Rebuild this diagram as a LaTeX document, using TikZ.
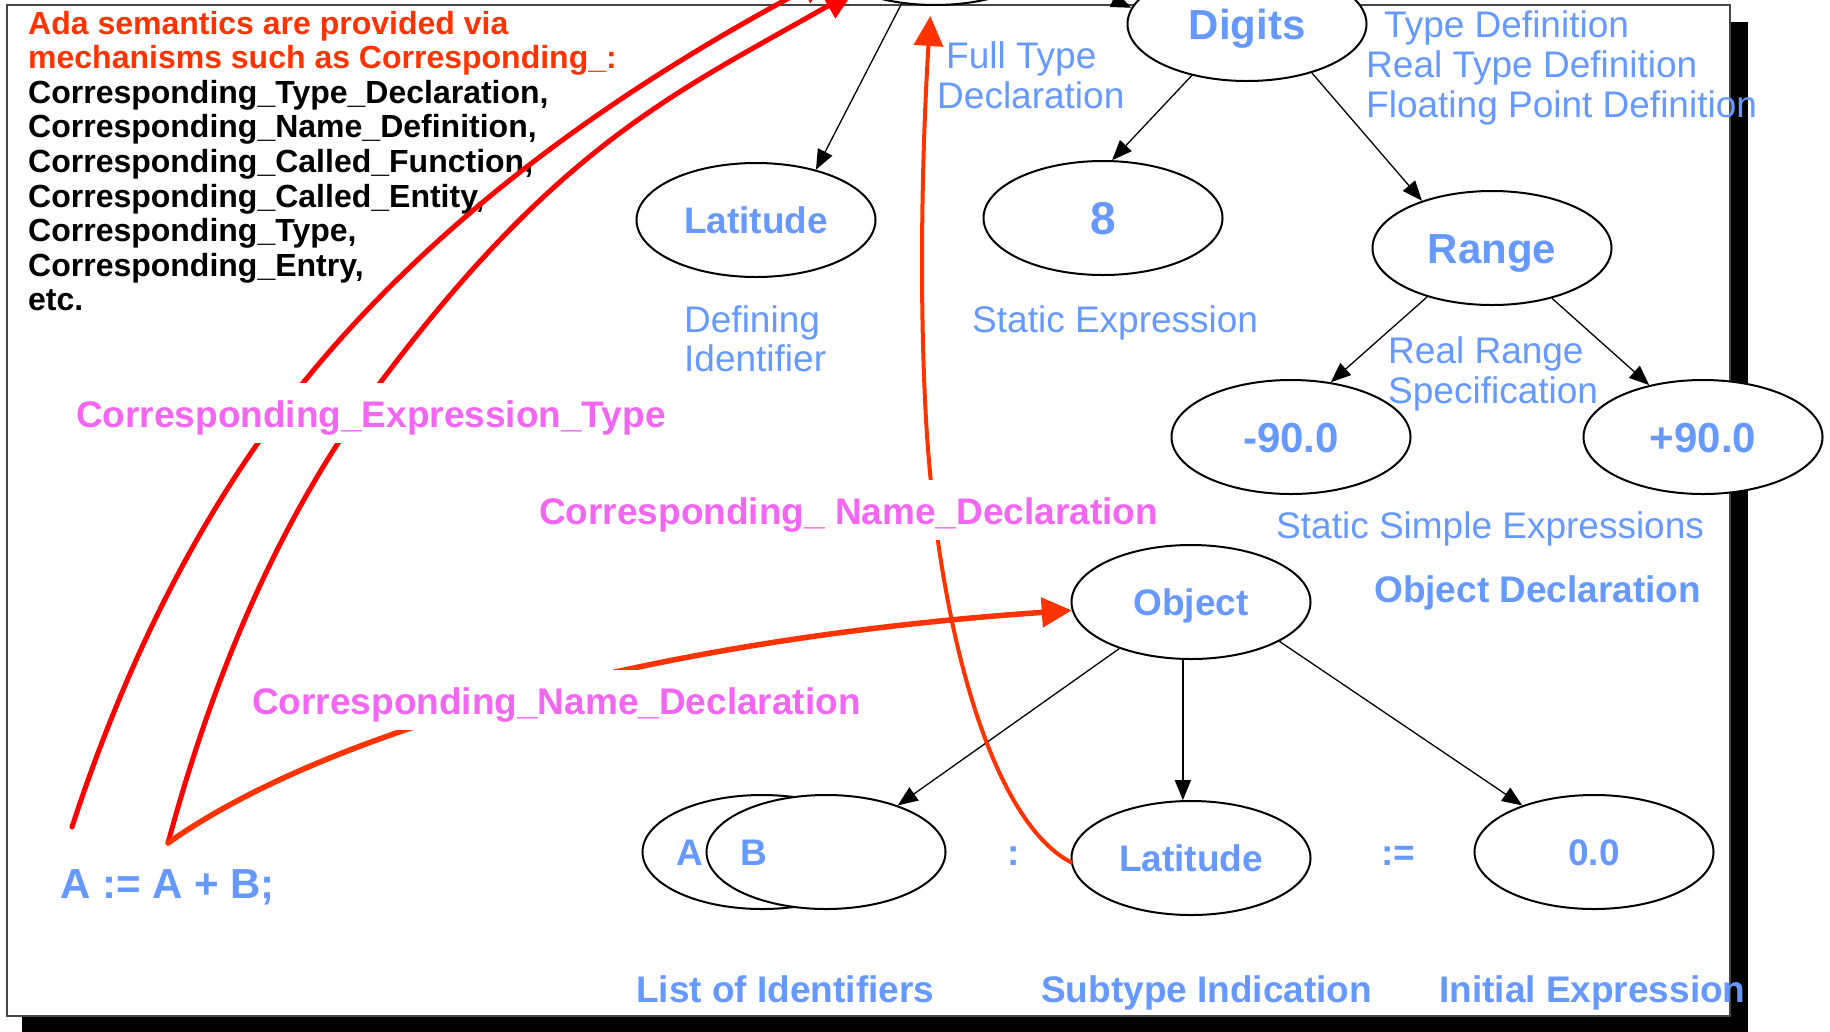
\documentclass[tikz,border=0pt]{standalone}
\usepackage{fontspec}
\setmainfont{Liberation Sans}
\usetikzlibrary{shapes.geometric,arrows.meta}
\definecolor{blu}{RGB}{102,153,255}
\definecolor{mag}{RGB}{242,102,242}
\definecolor{hdr}{RGB}{255,51,0}
\definecolor{redline}{RGB}{255,0,0}
\definecolor{orline}{RGB}{255,51,0}
\definecolor{framec}{RGB}{70,70,70}

\begin{document}
\begin{tikzpicture}[x=1pt,y=-1pt,
  ell/.style={ellipse, draw=black, line width=2pt, fill=white,
    minimum width=239pt, minimum height=114pt, inner sep=0pt,
    text height=26.5pt, text depth=0pt,
    text=blu, font=\bfseries\fontsize{37}{40}\selectfont},
  bigtxt/.style={font=\bfseries\fontsize{42}{46}\selectfont, text height=30pt},
  hugetxt/.style={font=\bfseries\fontsize{46}{50}\selectfont, text height=33pt},
  conn/.style={line width=1.3pt, -{Triangle[length=20pt,width=16pt]}},
  lbl/.style={text=blu, font=\fontsize{37}{40}\selectfont, inner sep=0pt, anchor=base west},
  lblb/.style={lbl, font=\bfseries\fontsize{37}{40}\selectfont},
  sym/.style={text=blu, font=\bfseries\fontsize{37}{40}\selectfont, inner sep=0pt, anchor=center},
  maglbl/.style={text=mag, font=\bfseries\fontsize{37}{40}\selectfont, fill=white,
    inner xsep=4pt, inner ysep=10pt, text height=34pt, text depth=6pt, anchor=base west},
  blk/.style={font=\bfseries\fontsize{32}{35}\selectfont, inner sep=0pt, anchor=base west},
  refline/.style={line width=5pt, line cap=round, draw=redline,
    -{Triangle[length=30pt,width=28pt]}},
  declline/.style={line cap=round, draw=orline, -{Triangle[length=30pt,width=29pt]}},
]
\useasboundingbox (0,0) rectangle (1830,1031);

% slide with drop shadow
\fill[black] (22,22) rectangle (1748,1040);
\draw[framec, line width=2pt, fill=white] (7,5) rectangle (1730,1016);

% tree nodes
\node[ell] (top) at (935,-52) {};
\node[ell] (lat1) at (756,220) {Latitude};
\node[ell,bigtxt] (digits) at (1247,24) {Digits};
\node[ell,hugetxt] (eight) at (1103,218) {8};
\node[ell,bigtxt] (range) at (1492,248) {Range};
\node[ell,bigtxt] (m90) at (1291,437) {-90.0};
\node[ell,bigtxt] (p90) at (1703,437) {+90.0};
\node[ell] (obj) at (1191,602) {Object};
\node[ell] (ellA) at (762,852) {};
\node[ell] (ellB) at (826,852) {};
\node[ell] (lat2) at (1191,858) {Latitude};
\node[ell] (zero) at (1594,852) {0.0};
\node[sym] (la) at (690,853) {A};
\node[sym] (lb) at (754,853) {B};
\node[sym] (colon) at (1014,856) {:};
\node[sym] (assign) at (1398,856) {:=};

% tree edges
\draw[conn] (top.-121) -- (lat1.40);
\draw[conn] (top.-11) -- (digits.172);
\draw[conn] (digits.-137) -- (eight.81);
\draw[conn] (digits.-37) -- (range.146);
\draw[conn] (range.-143) -- (m90.54);
\draw[conn] (range.-40) -- (p90.136);
\draw[conn] (obj.-147) -- (ellB.33);
\draw[conn] (obj.-98) -- (lat2.98);
\draw[conn] (obj.-24) -- (zero.147);

% syntactic category labels
\node[lbl] (ftd1) at (946,68) {Full Type};
\node[lbl] (ftd2) at (937,108) {Declaration};
\node[lbl] (td1) at (1384,37) {Type Definition};
\node[lbl] (td2) at (1366,77) {Real Type Definition};
\node[lbl] (td3) at (1366,117) {Floating Point Definition};
\node[lbl] (di1) at (684,332) {Defining};
\node[lbl] (di2) at (684,371) {Identifier};
\node[lbl] (se) at (972,332) {Static Expression};
\node[lbl] (rr1) at (1388,363) {Real Range};
\node[lbl] (rr2) at (1388,403) {Specification};
\node[lbl] (sse) at (1276,538) {Static Simple Expressions};
\node[lblb] (od) at (1374,602) {Object Declaration};
\node[lblb] (loi) at (636,1002) {List of Identifiers};
\node[lblb] (sti) at (1041,1002) {Subtype Indication};
\node[lblb] (ie) at (1439,1002) {Initial Expression};

% source statement
\node[lblb, font=\bfseries\fontsize{42}{46}\selectfont] (stmt) at (60,898) {A := A + B;};

% explanatory text block
\node[blk, text=hdr] (t0) at (28,34) {Ada semantics are provided via};
\node[blk, text=hdr] (t1) at (28,68.6) {mechanisms such as Corresponding\_:};
\node[blk] (t2) at (28,103.2) {Corresponding\_Type\_Declaration,};
\node[blk] (t3) at (28,137.8) {Corresponding\_Name\_Definition,};
\node[blk] (t4) at (28,172.4) {Corresponding\_Called\_Function,};
\node[blk] (t5) at (28,207) {Corresponding\_Called\_Entity,};
\node[blk] (t6) at (28,241.6) {Corresponding\_Type,};
\node[blk] (t7) at (28,276.2) {Corresponding\_Entry,};
\node[blk] (t8) at (28,310.8) {etc.};

% semantic references
\coordinate (src1) at (72,827);
\coordinate (src2) at (168,843);
\draw[refline] (src1) .. controls (124,668) and (198,513) .. (303,383)
  .. controls (448,204) and (637,79) .. (top.195);
\draw[refline] (src2) .. controls (212,680) and (278,518) .. (380,383)
  .. controls (560,143) and (677,92) .. (top.208);
\draw[declline, line width=5.5pt] (src2) .. controls (320,735) and (640,640) .. (obj.184);
\draw[declline, line width=4pt, shorten >=10pt] (lat2.182)
  .. controls (990,820) and (935,620) .. (925,400)
  .. controls (918,250) and (925,100) .. (top.266);

% reference names
\node[maglbl] (cet) at (72,427) {Corresponding\_Expression\_Type};
\node[maglbl] (cnd1) at (535,524) {Corresponding\_ Name\_Declaration};
\node[maglbl] (cnd2) at (248,714) {Corresponding\_Name\_Declaration};
\end{tikzpicture}
\end{document}
